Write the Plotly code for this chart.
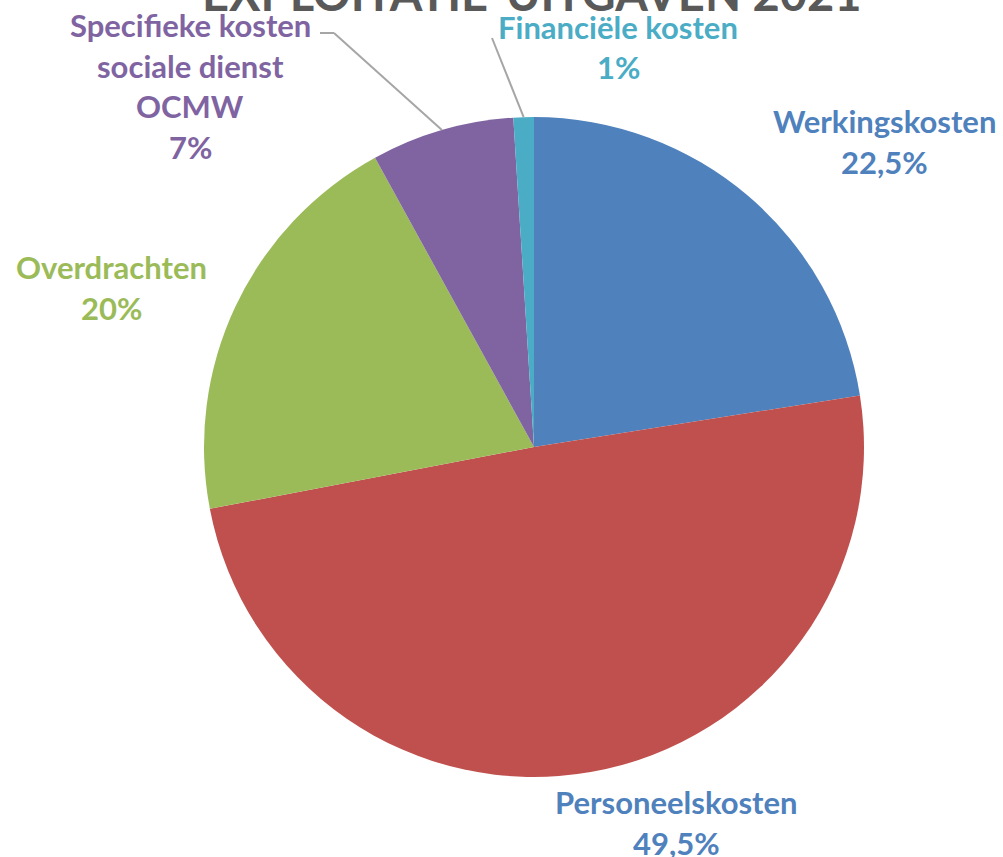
import math
import plotly.graph_objects as go

# ---- data ----
categories = ["Werkingskosten", "Personeelskosten", "Overdrachten",
              "Specifieke kosten sociale dienst OCMW", "Financiële kosten"]
values = [22.5, 49.5, 20, 7, 1]
slice_colors = ["#4F81BD", "#C0504D", "#9BBB59", "#8064A2", "#4BACC6"]
label_colors = ["#4F81BD", "#4F81BD", "#9BBB59", "#8064A2", "#4BACC6"]
label_lines = [["Werkingskosten"], ["Personeelskosten"], ["Overdrachten"],
               ["Specifieke kosten", "sociale dienst", "OCMW"], ["Financiële kosten"]]
title_text = "EXPLOITATIE-UITGAVEN 2021"

W, H = 1003, 857
FONT = "Lato"

def px(x):
    return x / W

def py(y):
    return 1 - y / H

# pie geometry (pixels)
cx, cy, R = 534, 447, 330

fig = go.Figure()
fig.add_trace(go.Pie(
    labels=categories, values=values, sort=False, direction="clockwise",
    rotation=0, marker=dict(colors=slice_colors, line=dict(width=0)),
    textinfo="none", hoverinfo="label+percent", showlegend=False,
    domain=dict(x=[px(cx - R), px(cx + R)], y=[py(cy + R), py(cy - R)]),
))

# label block positions (pixel centre x, first-line y)
label_pos = [(884, 121), (676, 802), (111, 267), (190, 25), (618, 27)]
line_gap = 40.5
annotations = []
for i, cat in enumerate(categories):
    lines = label_lines[i] + [f"{values[i]:g}".replace(".", ",") + "%"]
    x0, y0 = label_pos[i]
    for j, t in enumerate(lines):
        annotations.append(dict(
            x=px(x0), y=py(y0 + j * line_gap), xref="paper", yref="paper",
            text=f"<b>{t}</b>", showarrow=False, xanchor="center", yanchor="middle",
            font=dict(family=FONT, size=31, color=label_colors[i]),
        ))

# title (cut off at top as in reference)
annotations.append(dict(
    x=px(532), y=py(-7), xref="paper", yref="paper", text=f"<b>{title_text}</b>",
    showarrow=False, xanchor="center", yanchor="middle",
    font=dict(family=FONT, size=47, color="#595959"),
))

# leader lines from label to slice mid-angle
cum = 0
mids = []
total = sum(values)
for v in values:
    mids.append((cum + v / 2) / total * 2 * math.pi)
    cum += v

def edge(i):
    a = mids[i]
    return cx + R * math.sin(a), cy - R * math.cos(a)

shapes = []
gray = "#A6A6A6"
# Specifieke kosten
ex, ey = edge(3)
for (xa, ya, xb, yb) in [(320, 33, 334, 33), (334, 33, ex, ey)]:
    shapes.append(dict(type="line", xref="paper", yref="paper",
                       x0=px(xa), y0=py(ya), x1=px(xb), y1=py(yb),
                       line=dict(color=gray, width=2)))
# Financiële kosten
ex, ey = edge(4)
shapes.append(dict(type="line", xref="paper", yref="paper",
                   x0=px(492), y0=py(38), x1=px(ex), y1=py(ey),
                   line=dict(color=gray, width=2)))

fig.update_layout(
    width=W, height=H, margin=dict(l=0, r=0, t=0, b=0),
    paper_bgcolor="white", plot_bgcolor="white",
    annotations=annotations, shapes=shapes,
)
fig.write_html("out.html", config={"displayModeBar": False},
               post_script="document.body.style.margin='0';")
